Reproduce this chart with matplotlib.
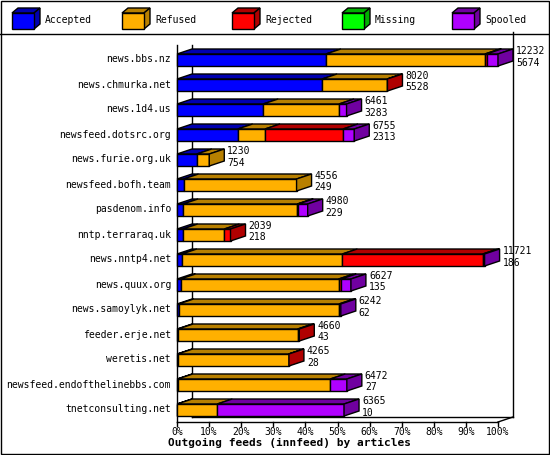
import matplotlib
import matplotlib.pyplot as plt
from matplotlib.patches import Polygon, Rectangle

matplotlib.use("agg")
plt.rcParams["font.family"] = "DejaVu Sans Mono"

hosts = ["news.bbs.nz", "news.chmurka.net", "news.1d4.us", "newsfeed.dotsrc.org",
         "news.furie.org.uk", "newsfeed.bofh.team", "pasdenom.info", "nntp.terraraq.uk",
         "news.nntp4.net", "news.quux.org", "news.samoylyk.net", "feeder.erje.net",
         "weretis.net", "newsfeed.endofthelinebbs.com", "tnetconsulting.net"]
offered = [12232, 8020, 6461, 6755, 1230, 4556, 4980, 2039, 11721, 6627, 6242, 4660, 4265, 6472, 6365]
accepted = [5674, 5528, 3283, 2313, 754, 249, 229, 218, 186, 135, 62, 43, 28, 27, 10]
refused = [6060, 2480, 2889, 1040, 476, 4307, 4356, 1585, 6114, 6025, 6110, 4555, 4227, 5813, 1525]
rejected = [60, 12, 0, 2972, 0, 0, 38, 236, 5350, 100, 0, 62, 10, 0, 0]
missing = [0] * 15
spooled = [438, 0, 289, 430, 0, 0, 357, 0, 71, 367, 70, 0, 0, 632, 4830]

series = [("Accepted", accepted, "#0000ff", "#0000b0"),
          ("Refused", refused, "#ffb000", "#b88000"),
          ("Rejected", rejected, "#ff0000", "#b00000"),
          ("Missing", missing, "#00ff00", "#00b000"),
          ("Spooled", spooled, "#b000ff", "#7000a0")]

W, H = 550, 455
fig = plt.figure(figsize=(W / 100, H / 100), dpi=100)
fig.patch.set_facecolor("white")

xmax = max(offered)
# axes spans the 0..100% front plane: x px 177..498, y px 32..432
ax = fig.add_axes([177 / W, 1 - 432 / H, 321 / W, 400 / H])
ax.set_xlim(0, xmax)
ax.set_ylim(15, -1)
ax.axis("off")
px = xmax / 321.0
dx, dy = 15 * px, -0.2
y0, y1 = -0.12, 0.36

def box(x, w, y, front, dark, side):
    kw = dict(edgecolor="black", linewidth=1, clip_on=False, zorder=3)
    ax.add_patch(Polygon([(x, y + y0), (x + dx, y + y0 + dy), (x + w + dx, y + y0 + dy), (x + w, y + y0)],
                         facecolor=dark, **kw))
    ax.add_patch(Rectangle((x, y + y0), w, y1 - y0, facecolor=front, **kw))
    if side:
        ax.add_patch(Polygon([(x + w, y + y0), (x + w + dx, y + y0 + dy), (x + w + dx, y + y1 + dy), (x + w, y + y1)],
                             facecolor=dark, **kw))

# frame
lk = dict(color="black", linewidth=1, clip_on=False, zorder=1)
ax.plot([0, 0], [-0.5, 14.6], **lk)
ax.plot([dx, dx], [-0.5, 14.6 + dy], **lk)
ax.plot([xmax + dx, xmax + dx], [-1, 14.6 + dy], **lk)
ax.plot([dx, xmax + dx], [14.6 + dy, 14.6 + dy], **lk)
ax.plot([0, xmax], [14.6, 14.6], **lk)
ax.plot([xmax, xmax + dx], [14.6, 14.6 + dy], **lk)
for k in range(11):
    ax.plot([xmax * k / 10] * 2, [14.6, 14.75], **lk)
    ax.text(xmax * k / 10, 15.0, f"{k * 10}%", ha="center", va="center", fontsize=7)
ax.text(xmax * 0.35, 15.45, "Outgoing feeds (innfeed) by articles", ha="center", va="center",
        fontsize=8, fontweight="bold")

for i, h in enumerate(hosts):
    ax.text(-6 * px, i + 0.1, h, ha="right", va="center", fontsize=7)
    segs = [(s[1][i], s[2], s[3]) for s in series if s[1][i] > 0]
    x = 0
    for j, (v, c, d) in enumerate(segs):
        box(x, v, i, c, d, j == len(segs) - 1)
        x += v
    ax.text(x + dx + 3 * px, i - 0.25, str(offered[i]), ha="left", va="center", fontsize=7)
    ax.text(x + dx + 3 * px, i + 0.22, str(accepted[i]), ha="left", va="center", fontsize=7)

# legend strip
lg = fig.add_axes([0, 0, 1, 1])
lg.set_xlim(0, W)
lg.set_ylim(H, 0)
lg.axis("off")
lg.add_patch(Rectangle((0.5, 0.5), W - 1.5, H - 1.5, fill=False, edgecolor="black", linewidth=1))
lg.plot([0, W], [34, 34], color="black", linewidth=1)
for k, (name, _, c, d) in enumerate(series):
    x = 12 + 110 * k
    lg.add_patch(Polygon([(x, 13), (x + 6, 8), (x + 28, 8), (x + 22, 13)], facecolor=d, edgecolor="black", lw=1))
    lg.add_patch(Polygon([(x + 22, 13), (x + 28, 8), (x + 28, 24), (x + 22, 29)], facecolor=d, edgecolor="black", lw=1))
    lg.add_patch(Rectangle((x, 13), 22, 16, facecolor=c, edgecolor="black", lw=1))
    lg.text(x + 33, 20, name, ha="left", va="center", fontsize=7)

fig.savefig("out.png", dpi=100)
